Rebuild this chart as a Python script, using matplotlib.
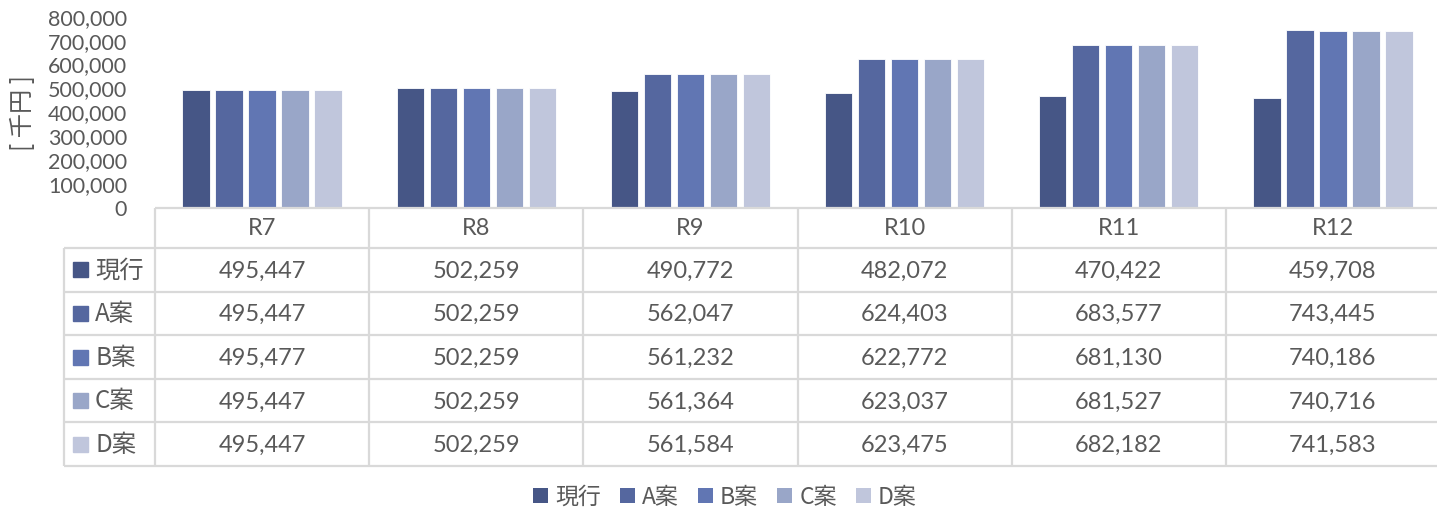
import matplotlib
matplotlib.use("Agg")
import matplotlib.pyplot as plt
from matplotlib.patches import Patch, Rectangle
import numpy as np

years = ["R7", "R8", "R9", "R10", "R11", "R12"]
series_names = ["現行", "A案", "B案", "C案", "D案"]
genko = [495447, 502259, 490772, 482072, 470422, 459708]
plan_a = [495447, 502259, 562047, 624403, 683577, 743445]
plan_b = [495477, 502259, 561232, 622772, 681130, 740186]
plan_c = [495447, 502259, 561364, 623037, 681527, 740716]
plan_d = [495447, 502259, 561584, 623475, 682182, 741583]
series_values = [genko, plan_a, plan_b, plan_c, plan_d]
colors = ["#465686", "#55679F", "#6176B3", "#99A6C8", "#C0C6DC"]
y_ticks = [0, 100000, 200000, 300000, 400000, 500000, 600000, 700000, 800000]
y_label = "[ 千円 ]"

TXT = "#595959"
GRID = "#D9D9D9"
NUM_FONT = ["Lato", "Noto Sans CJK JP"]
JP_FONT = ["Noto Sans CJK JP", "DejaVu Sans"]

W, H = 1437, 512
fig = plt.figure(figsize=(W / 100, H / 100), dpi=100)

left = 155 / W
width = 1285 / W
bar_bottom = (H - 208) / H
bar_top = (H - 16.7) / H
ax = fig.add_axes([left, bar_bottom, width, bar_top - bar_bottom])
tbl_bottom = (H - 466) / H
tax = fig.add_axes([left, tbl_bottom, width, bar_bottom - tbl_bottom], sharex=ax)

x = np.arange(len(years))
pitch = 0.154
bw = 0.128
for i, (name, vals, c) in enumerate(zip(series_names, series_values, colors)):
    ax.bar(x + (i - 2) * pitch, vals, width=bw, color=c, edgecolor="white",
           linewidth=0.6, label=name)

ax.set_xlim(-0.5, len(years) - 0.5)
ax.set_ylim(0, 800000)
ax.set_yticks(y_ticks)
ax.set_yticklabels([f"{v:,}" for v in y_ticks], fontsize=15.5, color=TXT,
                   family=NUM_FONT)
ax.tick_params(axis="y", length=0, pad=20)
ax.tick_params(axis="x", length=0, labelbottom=False)
for s in ax.spines.values():
    s.set_visible(False)
ax.set_facecolor("none")

fig.text(23 / W, 1 - 113 / H, y_label, rotation=90, ha="center", va="center",
         fontsize=17.5, color=TXT, family=JP_FONT)

# table
hdr = 40 / 43.6
bounds = [0, hdr] + [hdr + k for k in range(1, 6)]
tax.set_ylim(bounds[-1], 0)
tax.axis("off")
x_label_left = -0.5 - 91 / 214.2
lw = 1.6
tax.plot([-0.5, 5.5], [0, 0], color=GRID, lw=lw, clip_on=False,
         solid_capstyle="butt")
for b in bounds[1:]:
    tax.plot([x_label_left, 5.5], [b, b], color=GRID, lw=lw, clip_on=False,
             solid_capstyle="butt")
for k in range(len(years) + 1):
    tax.plot([k - 0.5, k - 0.5], [0, bounds[-1]], color=GRID, lw=lw,
             clip_on=False, solid_capstyle="butt")
tax.plot([x_label_left, x_label_left], [bounds[1], bounds[-1]], color=GRID,
         lw=lw, clip_on=False, solid_capstyle="butt")

for j, yr in enumerate(years):
    tax.text(j, hdr / 2 + 0.02, yr, ha="center", va="center", fontsize=17,
             color=TXT, family=NUM_FONT)
for i, (name, vals, c) in enumerate(zip(series_names, series_values, colors)):
    yc = (bounds[i + 1] + bounds[i + 2]) / 2
    for j, v in enumerate(vals):
        tax.text(j, yc + 0.03, f"{v:,}", ha="center", va="center",
                 fontsize=17, color=TXT, family=NUM_FONT)
    sq_w = 15 / 214.2
    sq_h = 15 / 43.6
    tax.add_patch(Rectangle((x_label_left + 9 / 214.2, yc - sq_h / 2), sq_w,
                            sq_h, color=c, clip_on=False))
    tax.text(x_label_left + 31 / 214.2, yc + 0.02, name, ha="left",
             va="center", fontsize=17.5, color=TXT, family=JP_FONT)

handles = [Patch(facecolor=c, edgecolor="none") for c in colors]
leg = fig.legend(handles, series_names, loc="center", ncol=5,
                 bbox_to_anchor=(725 / W, 1 - 497 / H), frameon=False,
                 prop={"family": JP_FONT, "size": 16.5},
                 handlelength=0.65, handleheight=0.65, handletextpad=0.3,
                 columnspacing=0.85, borderaxespad=0, borderpad=0)
for t in leg.get_texts():
    t.set_color(TXT)

fig.savefig("out.png", dpi=100, facecolor="white")
